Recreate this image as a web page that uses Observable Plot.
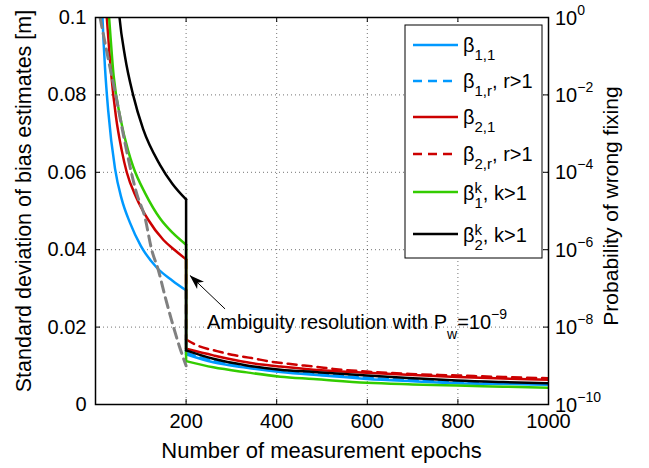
<!DOCTYPE html>
<html><head><meta charset="utf-8">
<script src="https://cdn.jsdelivr.net/npm/d3@7"></script>
<script src="https://cdn.jsdelivr.net/npm/@observablehq/plot@0.6"></script>
<style>body{margin:0;background:#fff}</style>
</head><body><div id="chart"></div>
<script>
// ---------- data ----------
const xTicks = [200, 400, 600, 800, 1000];
const xTickLabels = ["200", "400", "600", "800", "1000"];
const yTicks = [0, 0.02, 0.04, 0.06, 0.08, 0.1];
const yTickLabels = ["0", "0.02", "0.04", "0.06", "0.08", "0.1"];
const pTickExponents = [-10, -8, -6, -4, -2, 0];

const xLabel = "Number of measurement epochs";
const yLabel = "Standard deviation of bias estimates [m]";
const y2Label = "Probability of wrong fixing";

// beta_{1,1}
const beta11X = [8, 15, 21, 28, 43, 58, 76, 100, 135, 170, 200, 200, 260, 334, 408, 500, 599, 700, 798, 900, 1000];
const beta11Y = [0.125, 0.101, 0.087, 0.076, 0.061, 0.053, 0.047, 0.041, 0.0354, 0.032, 0.0295, 0.0130, 0.0109, 0.0095, 0.0084, 0.0075, 0.0066, 0.0060, 0.0055, 0.0053, 0.0051];
// beta_{1,r}, r>1
const beta1rX = [200, 200, 230, 260, 334, 408, 500, 600, 700, 800, 900, 1000];
const beta1rY = [0.0295, 0.0134, 0.0122, 0.0113, 0.0098, 0.0087, 0.0078, 0.0069, 0.0063, 0.0058, 0.0055, 0.0053];
// beta_{2,1}
const beta21X = [18, 25, 35, 45, 58, 69, 90, 116, 150, 176, 200, 200, 260, 334, 408, 481, 599, 700, 798, 900, 1000];
const beta21Y = [0.112, 0.1, 0.085, 0.0745, 0.0656, 0.060, 0.0535, 0.0478, 0.0425, 0.0398, 0.0375, 0.0144, 0.0127, 0.0109, 0.0098, 0.0090, 0.0082, 0.0076, 0.0071, 0.0067, 0.0064];
// beta_{2,r}, r>1
const beta2rX = [200, 200, 222, 268, 308, 345, 386, 426, 489, 525, 599, 695, 798, 900, 1000];
const beta2rY = [0.0375, 0.0168, 0.0154, 0.0138, 0.0127, 0.0120, 0.0111, 0.0105, 0.0097, 0.0092, 0.0085, 0.0079, 0.0075, 0.0071, 0.0068];
// beta_1^k, k>1
const beta1kX = [22, 30, 40, 55, 72, 83, 110, 143, 170, 200, 200, 260, 334, 408, 481, 599, 700, 798, 900, 1000];
const beta1kY = [0.112, 0.1, 0.085, 0.074, 0.0656, 0.0615, 0.0545, 0.048, 0.0444, 0.0413, 0.0112, 0.0096, 0.0083, 0.0072, 0.0066, 0.0056, 0.0052, 0.0049, 0.0046, 0.0043];
// beta_2^k, k>1
const beta2kX = [45, 53, 65, 83, 105, 142, 170, 200, 200, 260, 334, 408, 481, 599, 700, 798, 900, 1000];
const beta2kY = [0.112, 0.1, 0.09, 0.08, 0.0712, 0.062, 0.057, 0.053, 0.0140, 0.0118, 0.0101, 0.0090, 0.0084, 0.0075, 0.0068, 0.0062, 0.0058, 0.0055];
// probability of wrong fixing (right log axis)
const probX = [10, 32, 47, 61, 91, 109, 124, 139, 154, 168, 183, 200];
const probP = [1e0, 5.1e-2, 7.2e-3, 1.0e-3, 2.8e-5, 6.9e-6, 1.0e-6, 2.9e-7, 5.9e-8, 1.5e-8, 3.8e-9, 1.0e-9];

// annotation
const annText = "Ambiguity resolution with P";
const annX = 247, annY = 0.0194;
const arrowFrom = {x: 286, y: 0.0247};
const arrowTo = {x: 209, y: 0.0333};

// ---------- layout / style ----------
const FONT = "'Liberation Sans', Arial, Helvetica, sans-serif";
const W = 649, H = 468, ML = 95, MR = 101, MT = 17, MB = 64;
const PW = W - ML - MR, PH = H - MT - MB;

const series = [
  {xs: beta11X, ys: beta11Y, color: "#0099ff", dash: null, label: {sub: "1,1", tail: ""}},
  {xs: beta1rX, ys: beta1rY, color: "#0099ff", dash: "9,6", label: {sub: "1,r", tail: ", r>1"}},
  {xs: beta21X, ys: beta21Y, color: "#cc0000", dash: null, label: {sub: "2,1", tail: ""}},
  {xs: beta2rX, ys: beta2rY, color: "#cc0000", dash: "9,6", label: {sub: "2,r", tail: ", r>1"}},
  {xs: beta1kX, ys: beta1kY, color: "#33cc00", dash: null, label: {sub: "1", sup: "k", tail: ", k>1"}},
  {xs: beta2kX, ys: beta2kY, color: "#000000", dash: null, label: {sub: "2", sup: "k", tail: ", k>1"}}
];

const toRows = (xs, ys) => xs.map((x, i) => ({x, y: ys[i]}));
const probRows = probX.map((x, i) => ({x, p: probP[i]}));
const pToY = p => (Math.log10(p) + 10) / 100; // right log axis 1e-10..1e0 onto 0..0.1

// split a series at the jump (two points sharing x = 200)
function seriesMarks(s) {
  const rows = toRows(s.xs, s.ys);
  let k = rows.findIndex((r, i) => i > 0 && r.x === rows[i - 1].x);
  const pre = rows.slice(0, k), post = rows.slice(k);
  const opts = {x: "x", y: "y", stroke: s.color, strokeWidth: 2.5, strokeDasharray: s.dash, clip: true};
  const out = [];
  if (pre.length > 1) out.push(Plot.line(pre, {...opts, curve: "monotone-x"}));
  out.push(Plot.line([pre[pre.length - 1], post[0]], opts));
  out.push(Plot.line(post, {...opts, curve: "monotone-x"}));
  return out;
}

const gridStyle = {stroke: "#000", strokeOpacity: 0.55, strokeDasharray: "1,3", strokeWidth: 1};

const plot = Plot.plot({
  width: W, height: H,
  marginLeft: ML, marginRight: MR, marginTop: MT, marginBottom: MB,
  x: {domain: [0, 1000]},
  y: {domain: [0, 0.1]},
  style: {fontFamily: FONT, background: "white"},
  marks: [
    Plot.ruleX(xTicks.slice(0, 4), gridStyle),
    Plot.ruleY(yTicks.slice(1, 5), gridStyle),
    ...series.flatMap(seriesMarks),
    Plot.line(probRows, {x: "x", y: d => pToY(d.p), curve: "monotone-x", stroke: "#808080", strokeWidth: 3, strokeDasharray: "10,6", clip: true}),
    Plot.link([0], {x1: () => arrowFrom.x, y1: () => arrowFrom.y, x2: () => arrowTo.x, y2: () => arrowTo.y, stroke: "#000", strokeWidth: 1}),
    Plot.tickY(yTicks, {y: d => d, insetRight: PW - 5, stroke: "#000"}),
    Plot.tickY(yTicks, {y: d => d, insetLeft: PW - 5, stroke: "#000"}),
    Plot.tickX(xTicks, {x: d => d, insetTop: PH - 5, stroke: "#000"}),
    Plot.tickX(xTicks, {x: d => d, insetBottom: PH - 5, stroke: "#000"}),
    Plot.frame({stroke: "#000", strokeWidth: 1.5}),
    Plot.axisX(xTicks, {anchor: "bottom", tickSize: 0, tickPadding: 9, fontSize: 20, fontFamily: FONT, fill: "#000",
      tickFormat: d => xTickLabels[xTicks.indexOf(d)], label: null}),
    Plot.axisY(yTicks, {anchor: "left", tickSize: 0, tickPadding: 9, fontSize: 20, fontFamily: FONT, fill: "#000",
      tickFormat: d => yTickLabels[yTicks.indexOf(d)], label: null})
  ]
});
document.getElementById("chart").append(plot);

const svg = d3.select(plot);
const sx = plot.scale("x"), sy = plot.scale("y");
const X = v => sx.apply(v), Y = v => sy.apply(v);

// arrow head (filled)
{
  const tx = X(arrowTo.x), ty = Y(arrowTo.y), fx = X(arrowFrom.x), fy = Y(arrowFrom.y);
  const dx = tx - fx, dy = ty - fy, L = Math.hypot(dx, dy), ux = dx / L, uy = dy / L;
  const px = -uy, py = ux, hl = 15, hw = 5, notch = 11;
  const pts = [[tx, ty], [tx - ux * hl + px * hw, ty - uy * hl + py * hw], [tx - ux * notch, ty - uy * notch], [tx - ux * hl - px * hw, ty - uy * hl - py * hw]];
  svg.append("polygon").attr("points", pts.map(p => p.join(",")).join(" ")).attr("fill", "#000");
}

const g = svg.append("g").attr("font-family", FONT).attr("fill", "#000").attr("text-anchor", "start");

// annotation text
{
  const t = g.append("text").attr("x", X(annX)).attr("y", Y(annY)).attr("font-size", 20);
  t.append("tspan").text(annText);
  t.append("tspan").attr("font-size", 14).attr("dy", 10).text("w");
  t.append("tspan").attr("font-size", 20).attr("dy", -10).text("=10");
  t.append("tspan").attr("font-size", 14).attr("dy", -10).text("\u22129");
}

// right axis tick labels
pTickExponents.forEach(e => {
  const yy = Y(pToY(Math.pow(10, e)));
  const t = g.append("text").attr("x", ML + PW + 7).attr("y", yy + 7.5).attr("font-size", 20);
  t.append("tspan").text("10");
  t.append("tspan").attr("font-size", 14).attr("dy", -10).text(e === 0 ? "0" : "\u2212" + (-e));
});

// axis titles
g.append("text").attr("x", ML + PW / 2).attr("y", 458).attr("text-anchor", "middle").attr("font-size", 22).text(xLabel);
g.append("text").attr("transform", "translate(31,201) rotate(-90)").attr("text-anchor", "middle").attr("font-size", 21.5).text(yLabel);
g.append("text").attr("transform", "translate(618,206) rotate(-90)").attr("text-anchor", "middle").attr("font-size", 21).text(y2Label);

// legend
{
  const lg = svg.append("g").attr("font-family", FONT).attr("text-anchor", "start");
  lg.append("rect").attr("x", 405).attr("y", 25).attr("width", 137).attr("height", 233)
    .attr("fill", "#fff").attr("stroke", "#000").attr("stroke-width", 1);
  const rowY = [45, 81, 117, 154, 192, 234];
  series.forEach((s, i) => {
    const y = rowY[i];
    lg.append("line").attr("x1", 413).attr("x2", 458).attr("y1", y).attr("y2", y)
      .attr("stroke", s.color).attr("stroke-width", 2.5).attr("stroke-dasharray", s.dash);
    const base = s.label.sup ? y + 8 : y + 7;
    const t = lg.append("text").attr("x", 463).attr("y", base).attr("font-size", 20).attr("fill", "#000");
    t.append("tspan").text("\u03b2");
    if (s.label.sup) {
      t.append("tspan").attr("font-size", 15).attr("dy", -7).text(s.label.sup);
      t.append("tspan").attr("font-size", 15).attr("dx", -7.5).attr("dy", 15).text(s.label.sub);
      t.append("tspan").attr("font-size", 20).attr("dy", -8).text(s.label.tail);
    } else {
      t.append("tspan").attr("font-size", 15).attr("dy", 8).text(s.label.sub);
      if (s.label.tail) t.append("tspan").attr("font-size", 20).attr("dy", -8).text(s.label.tail);
    }
  });
}
</script>
</body></html>
